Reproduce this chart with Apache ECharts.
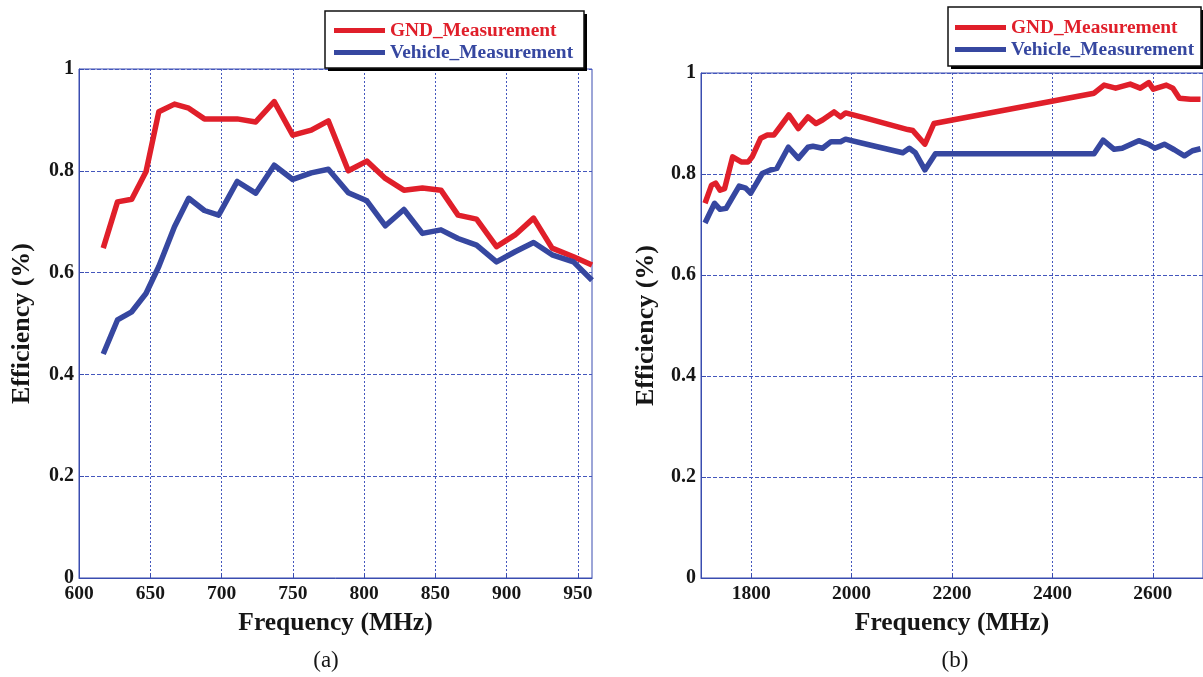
<!DOCTYPE html>
<html>
<head>
<meta charset="utf-8">
<script src="https://cdn.jsdelivr.net/npm/echarts@6/dist/echarts.min.js"></script>
<style>
  html, body { margin: 0; padding: 0; background: #fff; }
  #chart { width: 1203px; height: 677px; }
</style>
</head>
<body>
<div id="chart"></div>
<script>
// Low band (a): measured radiation efficiency, 600-960 MHz
const lowBandFreq = [617, 627, 637, 647, 656, 667, 677, 688, 698, 711, 724, 737, 750, 763, 775,
                     789, 802, 815, 828, 841, 854, 866, 879, 893, 906, 919, 932, 947, 960];
const lowBandGnd = [0.648, 0.739, 0.744, 0.798, 0.916, 0.931, 0.923, 0.902, 0.902, 0.902, 0.896, 0.936, 0.870, 0.880, 0.898,
                    0.800, 0.819, 0.785, 0.762, 0.766, 0.762, 0.713, 0.705, 0.651, 0.674, 0.707, 0.648, 0.631, 0.615];
const lowBandVehicle = [0.440, 0.507, 0.523, 0.559, 0.612, 0.690, 0.746, 0.722, 0.713, 0.779, 0.756, 0.811, 0.783, 0.796, 0.803,
                        0.757, 0.741, 0.692, 0.724, 0.677, 0.684, 0.667, 0.654, 0.621, 0.641, 0.659, 0.635, 0.621, 0.585];

// High band (b): measured radiation efficiency, 1700-2700 MHz
const highBandGndFreq = [1708, 1721, 1729, 1738, 1747, 1763, 1780, 1794, 1802, 1819, 1832, 1845, 1858, 1875, 1894,
                         1913, 1929, 1942, 1965, 1978, 1988, 2030, 2112, 2122, 2146, 2164, 2483, 2503, 2526, 2555,
                         2575, 2592, 2601, 2627, 2640, 2653, 2675, 2695];
const highBandGnd = [0.742, 0.778, 0.782, 0.768, 0.771, 0.834, 0.824, 0.824, 0.834, 0.871, 0.877, 0.877, 0.894, 0.917, 0.890,
                     0.913, 0.900, 0.907, 0.923, 0.913, 0.921, 0.910, 0.888, 0.886, 0.859, 0.900, 0.960, 0.976, 0.970, 0.978,
                     0.970, 0.981, 0.968, 0.976, 0.970, 0.950, 0.948, 0.948];
const highBandVehicleFreq = [1708, 1727, 1738, 1750, 1776, 1789, 1799, 1822, 1838, 1851, 1874, 1894, 1913, 1923, 1942,
                             1959, 1978, 1988, 2030, 2102, 2115, 2127, 2146, 2167, 2483, 2501, 2523, 2539, 2572, 2591,
                             2604, 2623, 2643, 2663, 2679, 2695];
const highBandVehicle = [0.703, 0.742, 0.730, 0.732, 0.776, 0.772, 0.762, 0.801, 0.808, 0.811, 0.853, 0.831, 0.853, 0.855, 0.851,
                         0.864, 0.864, 0.869, 0.859, 0.842, 0.851, 0.842, 0.808, 0.840, 0.840, 0.867, 0.849, 0.851, 0.866, 0.859,
                         0.851, 0.859, 0.848, 0.836, 0.846, 0.850];

// Axis ticks
const lowBandTicks = [600, 650, 700, 750, 800, 850, 900, 950];
const highBandTicks = [1800, 2000, 2200, 2400, 2600];

const seriesNames = ['GND_Measurement', 'Vehicle_Measurement'];
const panelCaptions = ['(a)', '(b)'];

const RED = '#e01f2a';
const BLUE = '#3647a0';
const AXIS_BLUE = '#3a4db0';
const GRID_BLUE = '#4457bd';
const INK = '#161616';
const SERIF = '"Liberation Serif", "Times New Roman", serif';

const pairs = (xs, ys) => xs.map((x, i) => [x, ys[i]]);
const plain = v => String(v);

function xAxisFor(gridIndex, min, max, ticks) {
  return {
    type: 'value', gridIndex, min, max,
    name: 'Frequency (MHz)', nameLocation: 'middle', nameGap: 32,
    nameTextStyle: { fontFamily: SERIF, fontWeight: 'bold', fontSize: 25.5, color: INK },
    axisLine: { show: true, onZero: false, lineStyle: { color: AXIS_BLUE, width: 1 } },
    axisTick: { show: true, inside: true, length: 5, customValues: ticks, lineStyle: { color: AXIS_BLUE } },
    axisLabel: { customValues: ticks, formatter: plain, margin: 6, fontFamily: SERIF, fontWeight: 'bold', fontSize: 19.5, color: INK },
    splitLine: { show: true, lineStyle: { color: GRID_BLUE, width: 1, type: [2, 2] } }
  };
}

function yAxisFor(gridIndex, nameGap) {
  return {
    type: 'value', gridIndex, min: 0, max: 1, interval: 0.2,
    name: 'Efficiency (%)', nameLocation: 'middle', nameGap,
    nameTextStyle: { fontFamily: SERIF, fontWeight: 'bold', fontSize: 26, color: INK },
    axisLine: { show: true, lineStyle: { color: AXIS_BLUE, width: 1 } },
    axisTick: { show: true, inside: true, length: 5, lineStyle: { color: AXIS_BLUE } },
    axisLabel: { formatter: plain, margin: 5, fontFamily: SERIF, fontWeight: 'bold', fontSize: 20, color: INK },
    splitLine: { show: true, lineStyle: { color: GRID_BLUE, width: 1, type: [4, 2] } }
  };
}

// Legend entries: line sample + coloured label, boxed by a framed panel below
function legendAt(left, top) {
  return {
    orient: 'vertical', left, top, padding: 0,
    icon: 'rect', itemWidth: 51, itemHeight: 5, itemGap: 3,
    textStyle: { fontFamily: SERIF, fontWeight: 'bold', fontSize: 19.4 },
    data: [
      { name: seriesNames[0], textStyle: { color: RED } },
      { name: seriesNames[1], textStyle: { color: BLUE } }
    ]
  };
}

function legendFrame(x, y, w, h) {
  return [
    { type: 'rect', z: 1, shape: { x: x + 3, y: y + 3, width: w, height: h }, style: { fill: '#000' } },
    { type: 'rect', z: 2, shape: { x, y, width: w, height: h }, style: { fill: '#fff', stroke: '#111', lineWidth: 1.5 } }
  ];
}

function lineSeries(name, color, data, idx) {
  return {
    type: 'line', name, data, xAxisIndex: idx, yAxisIndex: idx,
    showSymbol: false, symbol: 'none', color,
    lineStyle: { color, width: 5.5, join: 'round' },
    animation: false
  };
}

const chart = echarts.init(document.getElementById('chart'), null, { renderer: 'canvas' });
chart.setOption({
  backgroundColor: '#fff',
  animation: false,
  grid: [
    { left: 79, top: 69, right: 611, bottom: 99, show: true, borderColor: AXIS_BLUE, borderWidth: 1 },
    { left: 701, top: 73, right: -6, bottom: 99, show: true, borderColor: AXIS_BLUE, borderWidth: 1 }
  ],
  xAxis: [xAxisFor(0, 600, 960, lowBandTicks), xAxisFor(1, 1700, 2700, highBandTicks)],
  yAxis: [yAxisFor(0, 44), yAxisFor(1, 42)],
  legend: [legendAt(334, 21), legendAt(955, 18)],
  series: [
    lineSeries(seriesNames[0], RED, pairs(lowBandFreq, lowBandGnd), 0),
    lineSeries(seriesNames[1], BLUE, pairs(lowBandFreq, lowBandVehicle), 0),
    lineSeries(seriesNames[0], RED, pairs(highBandGndFreq, highBandGnd), 1),
    lineSeries(seriesNames[1], BLUE, pairs(highBandVehicleFreq, highBandVehicle), 1)
  ],
  graphic: [
    ...legendFrame(325, 11, 259, 57),
    ...legendFrame(948, 7, 253, 59),
    { type: 'text', x: 326, y: 661, style: { text: panelCaptions[0], fill: INK, font: '23px ' + SERIF, align: 'center', verticalAlign: 'middle' } },
    { type: 'text', x: 955, y: 661, style: { text: panelCaptions[1], fill: INK, font: '23px ' + SERIF, align: 'center', verticalAlign: 'middle' } }
  ]
});
</script>
</body>
</html>
